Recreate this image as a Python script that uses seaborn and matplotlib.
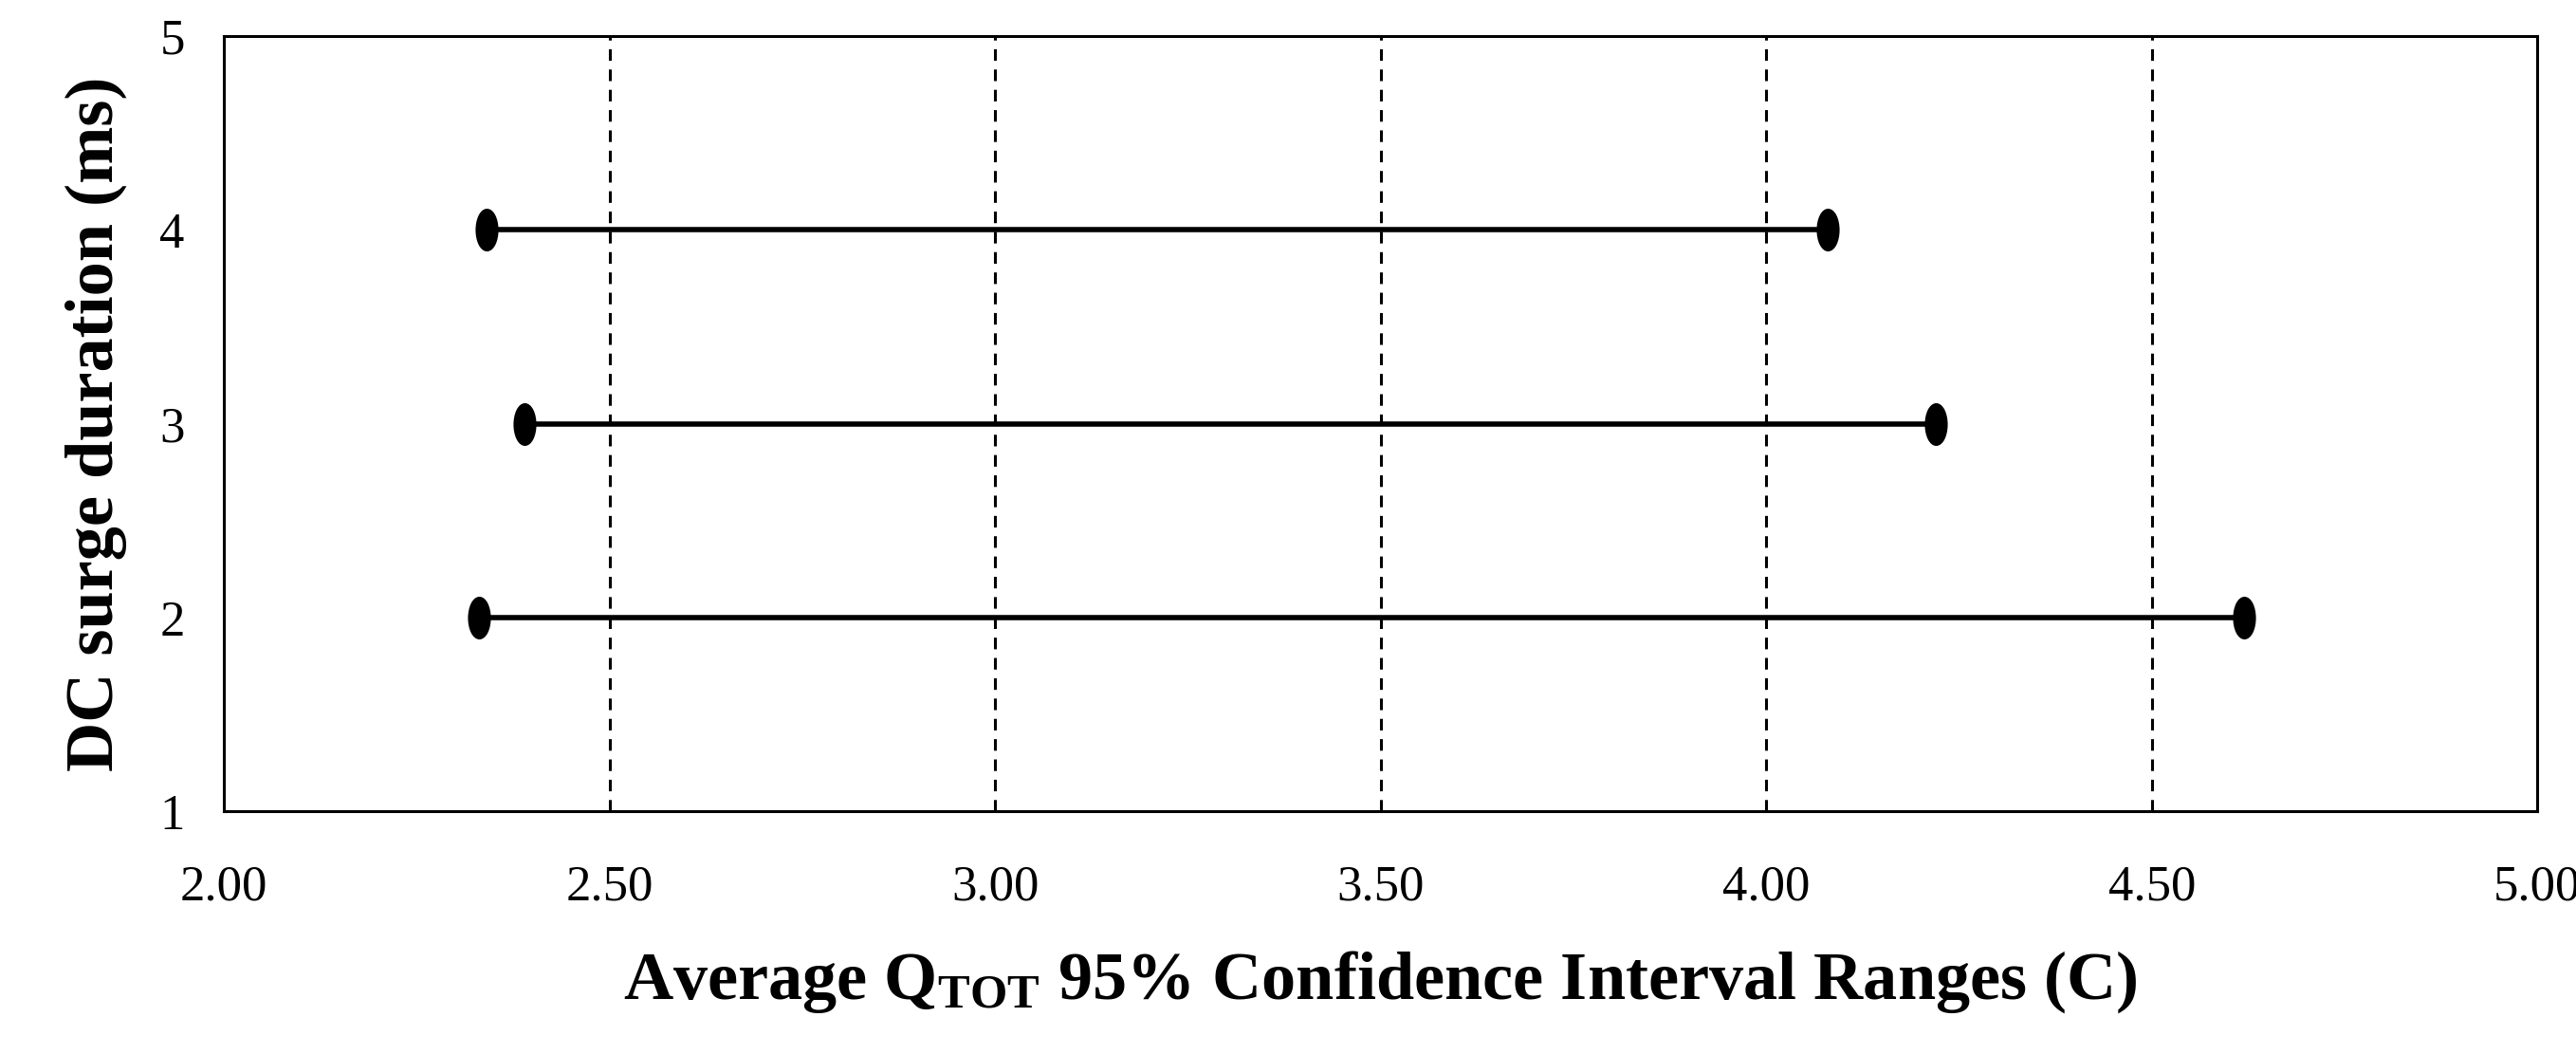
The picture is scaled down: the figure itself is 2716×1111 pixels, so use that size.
import seaborn as sns
import matplotlib.pyplot as plt
import pandas as pd
from matplotlib.markers import MarkerStyle
from matplotlib.transforms import Affine2D

sns.set_style("white")
plt.rcParams['font.family'] = ['Liberation Serif', 'DejaVu Serif']
plt.rcParams['mathtext.default'] = 'regular'
plt.rcParams['text.color'] = 'black'
plt.rcParams['axes.labelcolor'] = 'black'
plt.rcParams['xtick.color'] = 'black'
plt.rcParams['ytick.color'] = 'black'

durations = [2, 3, 4]
ci_low = [2.33, 2.39, 2.34]
ci_high = [4.62, 4.22, 4.08]

df = pd.DataFrame({
    'duration': durations * 2,
    'value': ci_low + ci_high,
})

fig = plt.figure(figsize=(27.16, 11.11), dpi=100)
ax = fig.add_axes([0.087, 0.23, 0.898, 0.736])

ax.hlines(durations, ci_low, ci_high, colors='black', linewidth=4, zorder=2)
marker = MarkerStyle('o', transform=Affine2D().scale(0.5, 1.0))
sns.scatterplot(data=df, x='value', y='duration', marker=marker, s=900,
                color='black', edgecolor='black', ax=ax, zorder=3)

for xv in [2.5, 3.0, 3.5, 4.0, 4.5]:
    ax.axvline(xv, color='black', linestyle=(0, (4, 3)), linewidth=2.2, zorder=1)

ax.set_xlim(2.0, 5.0)
ax.set_ylim(1, 5)
ax.set_xticks([2.0, 2.5, 3.0, 3.5, 4.0, 4.5, 5.0])
ax.set_xticklabels([f'{v:.2f}' for v in ax.get_xticks()])
ax.set_yticks([1, 2, 3, 4, 5])
ax.tick_params(axis='both', labelsize=38, length=0)
ax.tick_params(axis='x', pad=40)
ax.tick_params(axis='y', pad=30)
for sp in ax.spines.values():
    sp.set_color('black')
    sp.set_linewidth(2.2)

ax.set_xlabel('Average Q$_{TOT}$ 95% Confidence Interval Ranges (C)',
              fontsize=52, fontweight='bold', labelpad=30)
ax.set_ylabel('DC surge duration (ms)', fontsize=52, fontweight='bold', labelpad=25)

fig.savefig('out.png', dpi=100)
